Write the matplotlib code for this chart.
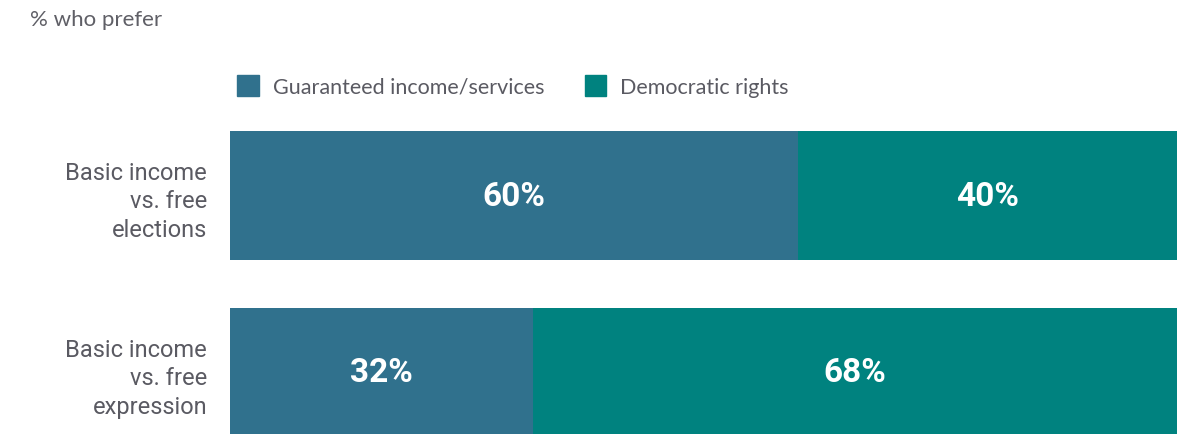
import numpy as np
import matplotlib.pyplot as plt
from matplotlib.patches import Patch

categories = ["Basic income\nvs. free\nelections", "Basic income\nvs. free\nexpression"]
income = [60, 32]
rights = [40, 68]
series_names = ["Guaranteed income/services", "Democratic rights"]
colors = ["#30718D", "#00827F"]

W, H = 1189, 435
fig = plt.figure(figsize=(W / 100, H / 100), dpi=100)
# axes placed in pixel terms: left 230, right 1177, top 132, bottom 435
ax = fig.add_axes([230 / W, 0, (1177 - 230) / W, (H - 132) / H])

y = np.arange(len(categories))
h = 0.729
ax.barh(y, income, height=h, color=colors[0], label=series_names[0])
ax.barh(y, rights, left=income, height=h, color=colors[1], label=series_names[1])

for i in range(len(categories)):
    ax.text(income[i] / 2, y[i], f"{income[i]}%", ha="center", va="center",
            color="white", fontsize=24, fontweight="bold", family="Roboto")
    ax.text(income[i] + rights[i] / 2, y[i], f"{rights[i]}%", ha="center", va="center",
            color="white", fontsize=24, fontweight="bold", family="Roboto")

ax.set_xlim(0, 100)
ax.set_ylim(1.3475, -h / 2)
ax.set_yticks(y)
ax.set_yticklabels(categories, fontsize=17, color="#5a5a62", family="Roboto",
                   linespacing=1.3, ha="right", ma="right")
ax.tick_params(axis="y", length=0, pad=16.5)
ax.set_xticks([])
for s in ax.spines.values():
    s.set_visible(False)

fig.text(30 / W, 1 - 20 / H, "% who prefer", fontsize=16, color="#5f5f66",
         family="Lato", va="center", ha="left")

handles = [Patch(color=c) for c in colors]
fig.legend(handles, series_names, loc="center left", bbox_to_anchor=(237 / W, 1 - 87 / H),
           ncol=2, frameon=False, handlelength=1.0, handleheight=1.1,
           handletextpad=0.65, columnspacing=1.9, borderaxespad=0, borderpad=0,
           labelcolor="#5a5a62", prop={"family": "Lato", "size": 15.5})

fig.savefig("out.png", dpi=100)
